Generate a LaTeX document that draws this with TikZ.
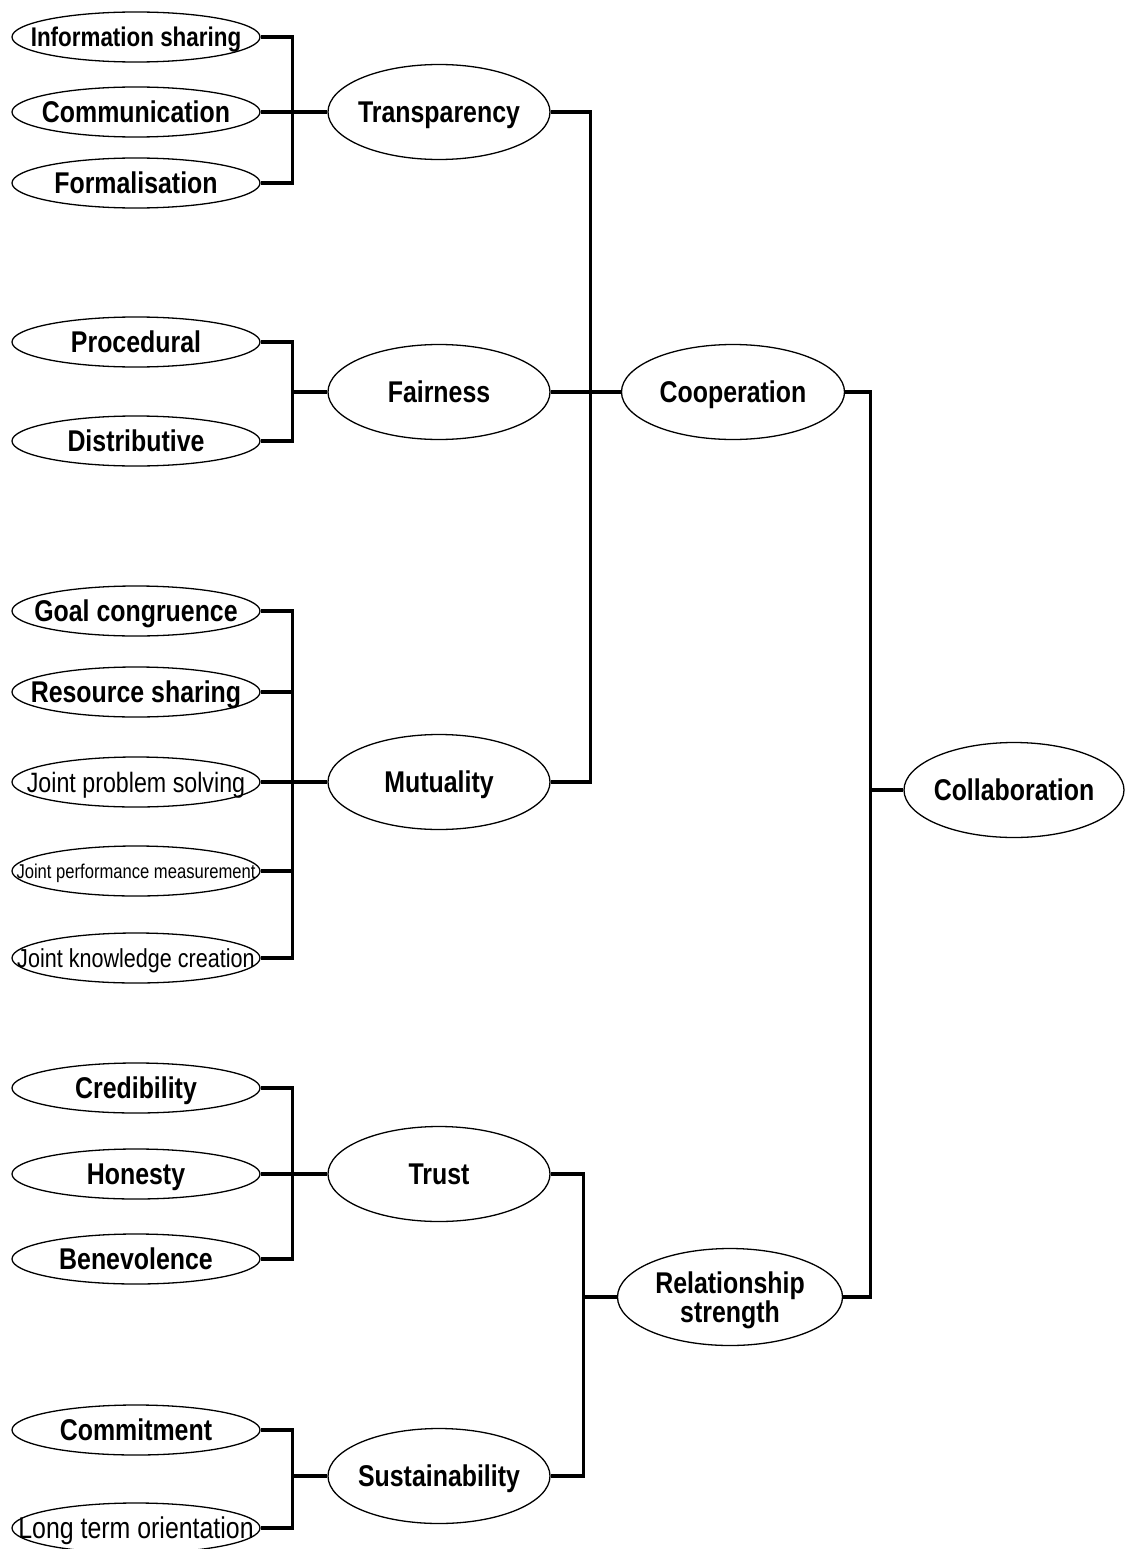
\documentclass[tikz,border=0pt]{standalone}
\usepackage{fontspec}
\setmainfont{Liberation Sans}[FakeStretch=0.83]
\usetikzlibrary{shapes.geometric}
\begin{document}
\begin{tikzpicture}[x=1pt,y=-1pt,
  oval/.style={ellipse,draw,line width=1.3pt,inner sep=-60pt,text height=21.5pt,text depth=0pt,font=\fontsize{30}{34}\selectfont\bfseries},
  attr/.style={oval,minimum width=248pt,minimum height=50pt},
  dimn/.style={oval,minimum width=222pt,minimum height=95pt},
  link/.style={line width=3.2pt}]
\useasboundingbox (0,0) rectangle (1125,1549);
\node[attr,font=\fontsize{27}{30}\selectfont\bfseries,text height=19.5pt] (info) at (136,37) {Information sharing};
\node[attr] (comm) at (136,112) {Communication};
\node[attr] (form) at (136,183) {Formalisation};
\node[attr] (proc) at (136,342) {Procedural};
\node[attr] (dist) at (136,441) {Distributive};
\node[attr] (goal) at (136,611) {Goal congruence};
\node[attr] (res) at (136,692) {Resource sharing};
\node[attr,font=\fontsize{28}{32}\selectfont\mdseries,text height=20pt] (jps) at (136,782) {Joint problem solving};
\node[attr,font=\fontsize{20}{24}\selectfont\mdseries,text height=14.5pt] (jpm) at (136,871) {Joint performance measurement};
\node[attr,font=\fontsize{26}{30}\selectfont\mdseries,text height=19pt] (jkc) at (136,958) {Joint knowledge creation};
\node[attr] (cred) at (136,1088) {Credibility};
\node[attr] (hon) at (136,1174) {Honesty};
\node[attr] (ben) at (136,1259) {Benevolence};
\node[attr] (comt) at (136,1430) {Commitment};
\node[attr,font=\fontsize{30}{34}\selectfont\mdseries] (lto) at (136,1528) {Long term orientation};

\node[dimn] (trans) at (439,112) {Transparency};
\node[dimn] (fair) at (439,392) {Fairness};
\node[dimn] (mutu) at (439,782) {Mutuality};
\node[dimn] (trust) at (439,1174) {Trust};
\node[dimn] (sust) at (439,1476) {Sustainability};

\node[dimn,minimum width=223pt] (coop) at (733,392) {Cooperation};
\node[dimn,align=center,text height=,text depth=0pt,font=\fontsize{30}{29}\selectfont\bfseries,minimum width=225pt,minimum height=97pt] (rel) at (730,1297) {Relationship\\strength};
\node[dimn,minimum width=220pt] (collab) at (1014,790) {Collaboration};

\draw[link] (info.east) -| ([xshift=-35pt]trans.west) -- (trans.west);
\draw[link] (comm.east) -| ([xshift=-35pt]trans.west) -- (trans.west);
\draw[link] (form.east) -| ([xshift=-35pt]trans.west) -- (trans.west);
\draw[link] (proc.east) -| ([xshift=-35pt]fair.west) -- (fair.west);
\draw[link] (dist.east) -| ([xshift=-35pt]fair.west) -- (fair.west);
\draw[link] (goal.east) -| ([xshift=-35pt]mutu.west) -- (mutu.west);
\draw[link] (res.east) -| ([xshift=-35pt]mutu.west) -- (mutu.west);
\draw[link] (jps.east) -| ([xshift=-35pt]mutu.west) -- (mutu.west);
\draw[link] (jpm.east) -| ([xshift=-35pt]mutu.west) -- (mutu.west);
\draw[link] (jkc.east) -| ([xshift=-35pt]mutu.west) -- (mutu.west);
\draw[link] (cred.east) -| ([xshift=-35pt]trust.west) -- (trust.west);
\draw[link] (hon.east) -| ([xshift=-35pt]trust.west) -- (trust.west);
\draw[link] (ben.east) -| ([xshift=-35pt]trust.west) -- (trust.west);
\draw[link] (comt.east) -| ([xshift=-35pt]sust.west) -- (sust.west);
\draw[link] (lto.east) -| ([xshift=-35pt]sust.west) -- (sust.west);

\draw[link] (trans.east) -| ([xshift=-30pt]coop.west) -- (coop.west);
\draw[link] (fair.east) -- (coop.west);
\draw[link] (mutu.east) -| ([xshift=-30pt]coop.west) -- (coop.west);
\draw[link] (trust.east) -| ([xshift=-33pt]rel.west) -- (rel.west);
\draw[link] (sust.east) -| ([xshift=-33pt]rel.west) -- (rel.west);

\draw[link] (coop.east) -| ([xshift=-33pt]collab.west) -- (collab.west);
\draw[link] (rel.east) -| ([xshift=-33pt]collab.west) -- (collab.west);
\end{tikzpicture}
\end{document}
